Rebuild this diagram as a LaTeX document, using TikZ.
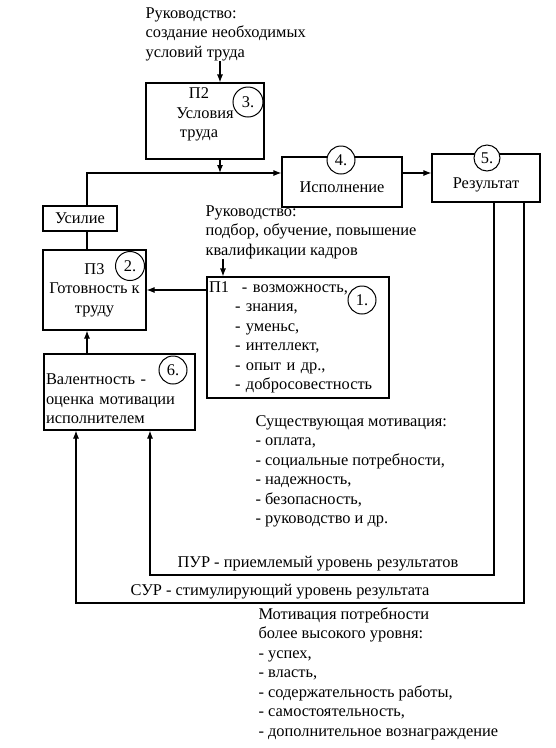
\documentclass[tikz,border=0pt]{standalone}
\usepackage{fontspec}
\setmainfont{Liberation Serif}
\usetikzlibrary{arrows.meta}
\newcommand\diagfont{\fontsize{16.4}{19.5}\selectfont}

\begin{document}
\begin{tikzpicture}[x=1pt,y=-1pt,line width=1.1pt,
   every node/.style={font=\diagfont},
   box/.style={draw,inner sep=1pt,align=center},
   num/.style={draw,circle,fill=white,inner sep=0pt,line width=1pt},
   txt/.style={anchor=north west,inner sep=0pt,align=left},
   arr/.style={-{Latex[length=8pt,width=6pt]}}]
   \useasboundingbox (0,0) rectangle (556,748);

   \node[txt] (rukTop) at (145,7) {Руководство:\\создание необходимых\\условий труда};
   \node[box,minimum width=118pt,minimum height=76pt] (p2) at (205,121)
      {П2\hspace*{12pt}\\Условия\hspace*{12pt}\\труда\hspace*{12pt}\rule[-16pt]{0pt}{1pt}};
   \node[box,minimum width=120pt,minimum height=50pt] (ispoln) at (342,182) {\rule{0pt}{21pt}Исполнение};
   \node[box,minimum width=108pt,minimum height=48pt] (rezult) at (486,178) {\rule{0pt}{25pt}Результат};
   \node[box,minimum width=74pt,minimum height=25pt] (usilie) at (80,218.5) {Усилие};
   \node[box,minimum width=103pt,minimum height=80pt] (p3) at (94.5,290) {П3\\Готовность к\\труду};
   \node[txt] (rukP1) at (205,205) {Руководство:\\подбор, обучение, повышение\\квалификации кадров};
   \node[box,align=left,minimum width=182pt,minimum height=121pt,text width=178pt] (p1) at (298,337.5)
      {\makebox[33pt][l]{П1}- возможность,\\
       \hspace*{26pt}- знания,\\
       \hspace*{26pt}- уменьс,\\
       \hspace*{26pt}- интеллект,\\
       \hspace*{26pt}- опыт и др.,\\
       \hspace*{26pt}- добросовестность};
   \node[box,align=left,minimum width=151pt,minimum height=76pt,text width=147pt] (valent) at (119.5,392)
      {\rule{0pt}{25pt}Валентность -\\оценка мотивации\\исполнителем};
   \node[txt] (sushMot) at (255,415) {Существующая мотивация:\\- оплата,\\- социальные потребности,\\- надежность,\\- безопасность,\\- руководство и др.};
   \node[txt] (pur) at (177,556) {ПУР - приемлемый уровень результатов};
   \node[txt] (sur) at (130,584) {СУР - стимулирующий уровень результата};
   \node[txt] (vyshMot) at (258,607) {Мотивация потребности\\более высокого уровня:\\- успех,\\- власть,\\- содержательность работы,\\- самостоятельность,\\- дополнительное вознаграждение};

   \coordinate (j) at (220,173);
   \coordinate (k) at (87,173);
   \coordinate (m) at (223,270);
   \coordinate (pr) at (494,575);
   \coordinate (pl) at (150,575);
   \coordinate (sr) at (524,603);
   \coordinate (sl) at (76,603);

   \draw[arr] (rukTop.south -| j) -- (p2.north -| j);
   \draw[arr] (p2.south -| j) -- (j);
   \draw[arr] (usilie.north -| k) |- (ispoln.west |- j);
   \draw[arr] (ispoln.east |- j) -- (rezult.west |- j);
   \draw (usilie.south -| k) -- (p3.north -| k);
   \draw[arr] (rukP1.south -| m) -- (p1.north -| m);
   \draw[arr] (p1.west |- p3.east) -- (p3.east);
   \draw[arr] (valent.north -| k) -- (p3.south -| k);
   \draw[arr] (rezult.south -| pr) -- (pr) -- (pl) -- (valent.south -| pl);
   \draw[arr] (rezult.south -| sr) -- (sr) -- (sl) -- (valent.south -| sl);

   \node[num,minimum size=30pt] (c3) at (248,102) {3.};
   \node[num,minimum size=28pt] (c4) at (341,160) {4.};
   \node[num,minimum size=26pt] (c5) at (487,158) {5.};
   \node[num,minimum size=29pt] (c2) at (130,266) {2.};
   \node[num,minimum size=28pt] (c1) at (362,300) {1.};
   \node[num,minimum size=28pt] (c6) at (173,370) {6.};
\end{tikzpicture}
\end{document}
